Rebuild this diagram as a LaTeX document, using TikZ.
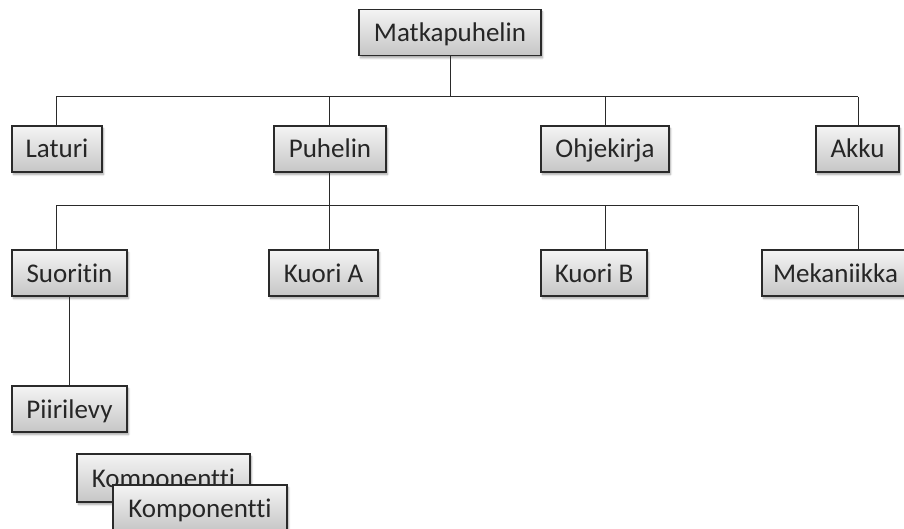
\documentclass[tikz,border=0pt]{standalone}
\usepackage{fontspec}
\setmainfont[Ligatures=NoCommon]{Carlito}
\usetikzlibrary{shadows.blur}
\definecolor{boxtop}{HTML}{F4F4F4}
\definecolor{boxbot}{HTML}{C6C6C6}
\definecolor{edge}{HTML}{2A2A2A}
\tikzset{
  part/.style={draw=edge, line width=1.1pt, top color=boxtop, bottom color=boxbot,
    inner sep=0pt, minimum height=46pt, anchor=center,
    text height=18pt, text depth=0pt,
    font=\fontsize{27}{30}\selectfont, text=black!85,
    blur shadow={shadow xshift=1.5pt, shadow yshift=-2.5pt, shadow blur steps=6, shadow opacity=35}},
  link/.style={draw=edge, line width=1pt}
}
\begin{document}
\begin{tikzpicture}[x=1pt,y=-1pt]
\useasboundingbox (0,0) rectangle (904,529);
\clip (0,0) rectangle (904,529);
% top level
\node[part, minimum width=182pt] (root) at (450,32.5) {Matkapuhelin};
% second level
\node[part, minimum width=90pt]  (laturi) at (57,149) {Laturi};
\node[part, minimum width=112pt] (puhelin) at (330,149) {Puhelin};
\node[part, minimum width=128pt] (ohje) at (605,149) {Ohjekirja};
\node[part, minimum width=83pt]  (akku) at (857.5,149) {Akku};
% third level
\node[part, minimum width=115pt] (suor) at (69.5,273) {Suoritin};
\node[part, minimum width=109pt] (kuoria) at (323.5,273) {Kuori A};
\node[part, minimum width=106pt] (kuorib) at (594,273) {Kuori B};
\node[part, minimum width=147pt] (meka) at (835.5,273) {Mekaniikka};
% fourth level
\node[part, minimum width=115pt] (piiri) at (69.5,409) {Piirilevy};
\node[part, minimum width=173pt, minimum height=48pt] (komp1) at (163.5,478) {Komponentti};
\node[part, minimum width=174pt] (komp2) at (200,508) {Komponentti};
% bus lines
\coordinate (busA1) at (56,97);
\coordinate (busA2) at (858,97);
\coordinate (busB1) at (56,206);
\coordinate (busB2) at (858,206);
\coordinate (tapA2) at (329,97);
\coordinate (tapA3) at (605,97);
\coordinate (tapB2) at (329,206);
\coordinate (tapB3) at (605,206);
\draw[link] (root.south) -- (root.south |- busA1);
\draw[link] (busA1) -- (busA2);
\draw[link] (busA1) -- (busA1 |- laturi.north);
\draw[link] (tapA2) -- (tapA2 |- puhelin.north);
\draw[link] (tapA3) -- (tapA3 |- ohje.north);
\draw[link] (busA2) -- (busA2 |- akku.north);
\draw[link] (tapB2 |- puhelin.south) -- (tapB2);
\draw[link] (busB1) -- (busB2);
\draw[link] (busB1) -- (busB1 |- suor.north);
\draw[link] (tapB2) -- (tapB2 |- kuoria.north);
\draw[link] (tapB3) -- (tapB3 |- kuorib.north);
\draw[link] (busB2) -- (busB2 |- meka.north);
\draw[link] (suor.south) -- (piiri.north);
\end{tikzpicture}
\end{document}
